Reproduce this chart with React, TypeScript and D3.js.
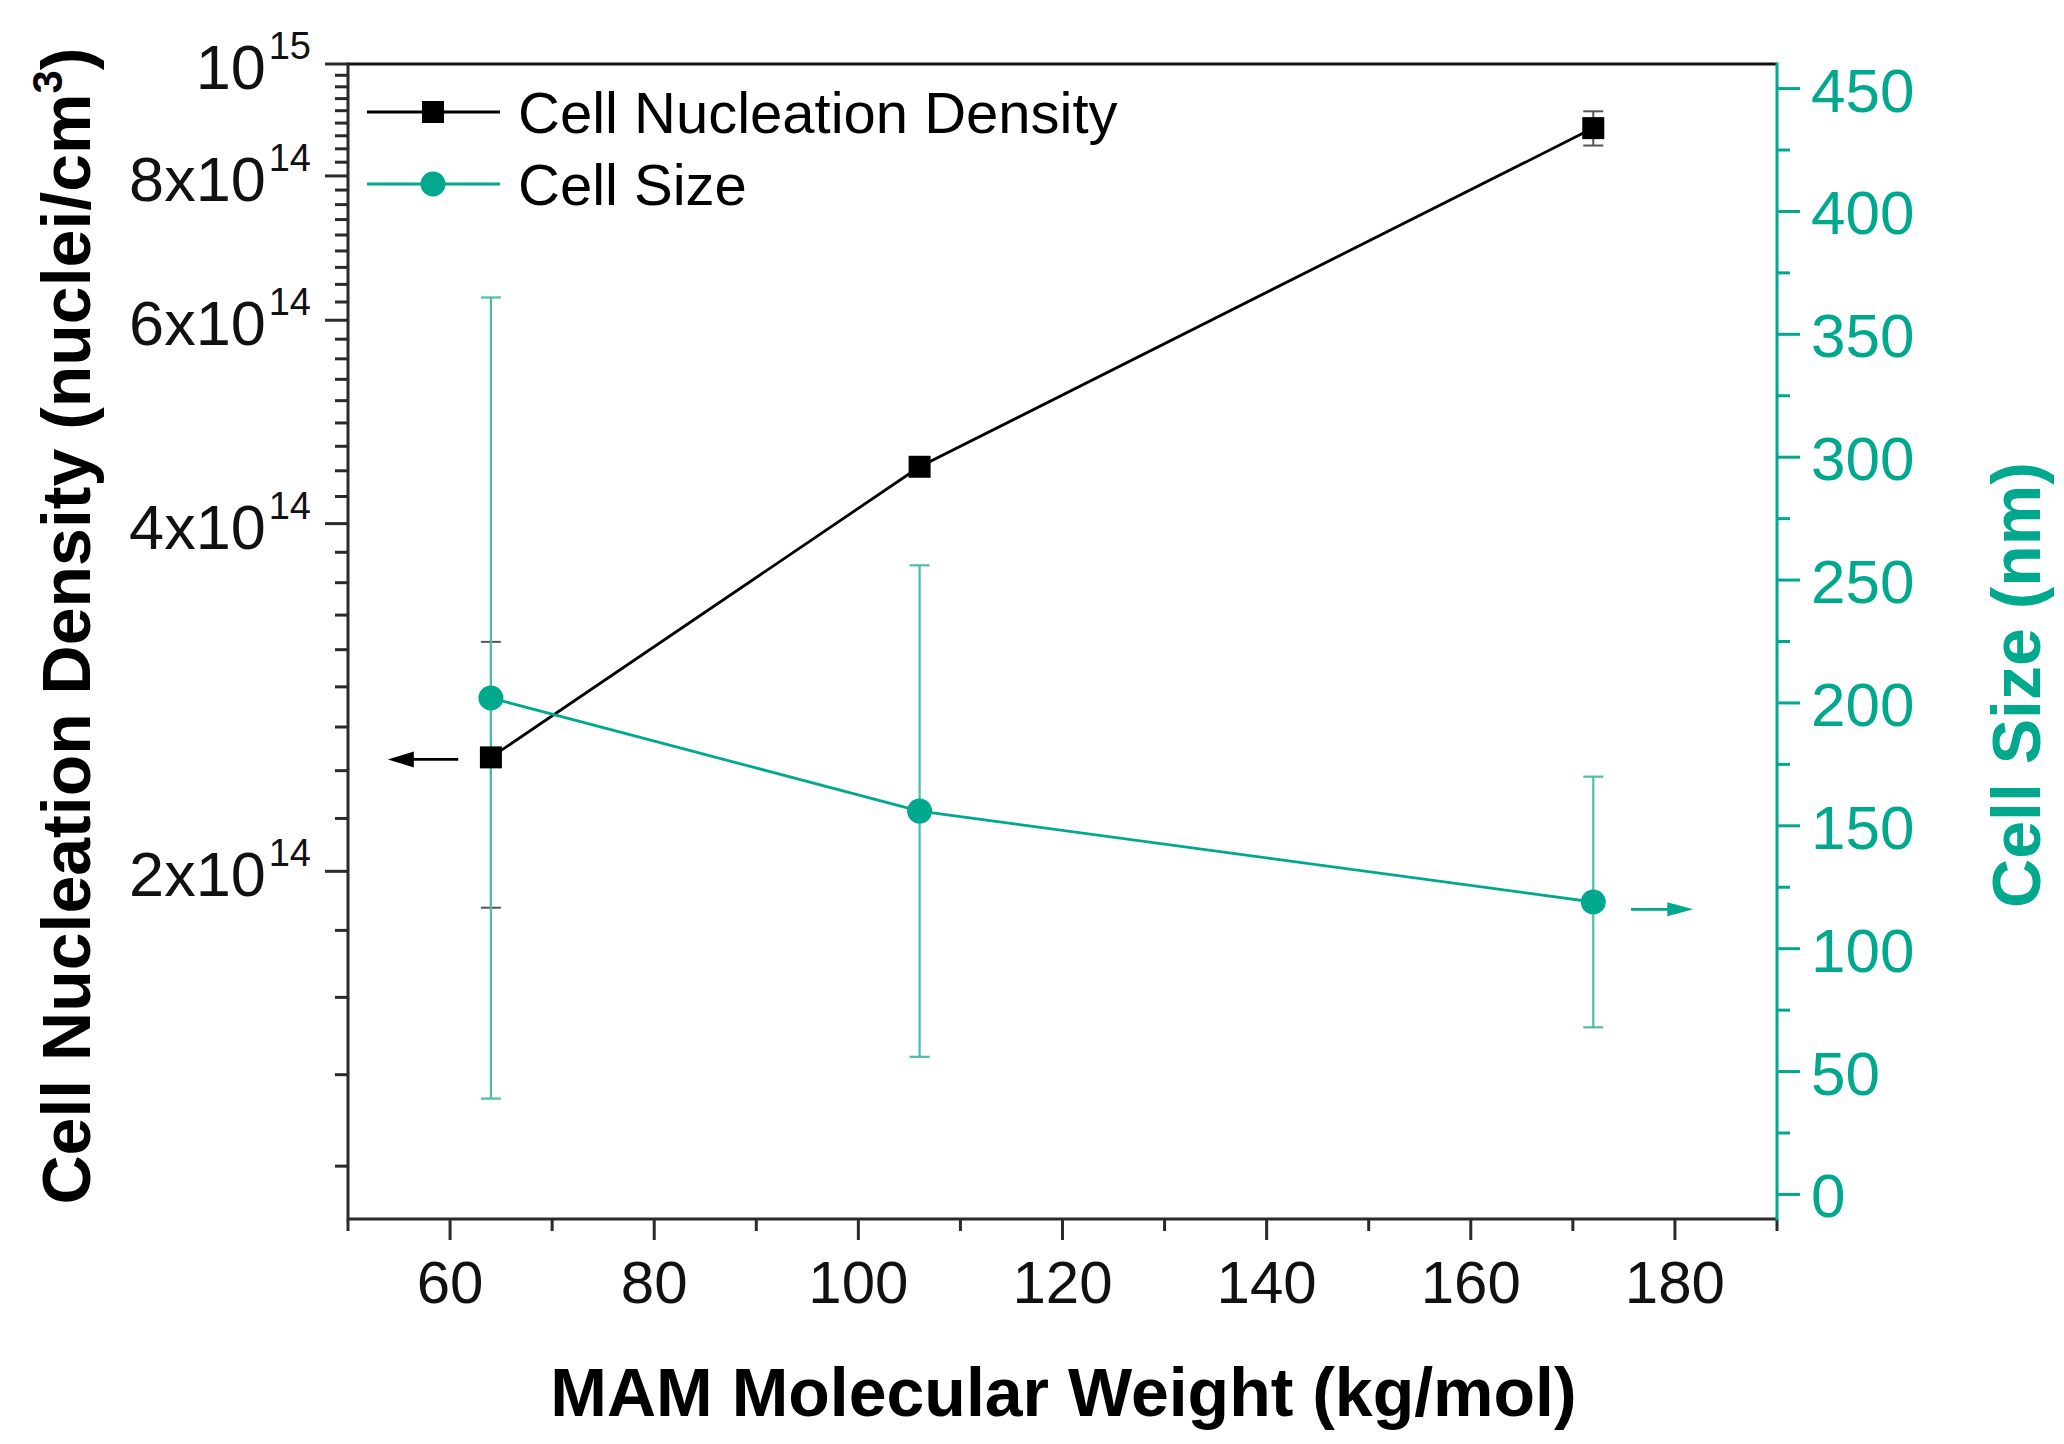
import * as d3 from 'd3';

// MAM molecular weight (kg/mol)
const molecularWeights = [64, 106, 172];
// cell nucleation density (nuclei/cm3) and its error
const densityValues = [2.51e14, 4.48e14, 8.8e14];
const densityErrors = [0.65e14, 0.05e14, 0.3e14];
// cell size (nm) and its error
const cellSizeValues = [202, 156, 119];
const cellSizeErrors = [163, 100, 51];

const xMajorTicks = [60, 80, 100, 120, 140, 160, 180];
const xMinorTicks = [50, 70, 90, 110, 130, 150, 170, 190];
const leftMajorTicks = [2e14, 4e14, 6e14, 8e14, 1e15];
const leftTickLabels = [
  { base: '2x10', exp: '14' },
  { base: '4x10', exp: '14' },
  { base: '6x10', exp: '14' },
  { base: '8x10', exp: '14' },
  { base: '10', exp: '15' },
];
const rightMajorTicks = [0, 50, 100, 150, 200, 250, 300, 350, 400, 450];
const rightMinorTicks = [25, 75, 125, 175, 225, 275, 325, 375, 425];

const TEAL = '#00a88e';
const TEAL_ERR = '#4cbcab';
const AXIS = '#2a2a2a';
const FONT = "'Liberation Sans', Arial, Helvetica, sans-serif";

const W = 2064;
const H = 1444;
const plot = { left: 348, right: 1777, top: 64, bottom: 1219 };

const App = () => {
  const x = d3.scaleLinear().domain([50, 190]).range([plot.left, plot.right]);
  const yL = d3.scaleLog().domain([1e14, 1e15]).range([plot.bottom, plot.top]);
  const yR = d3.scaleLinear().domain([-10, 460]).range([plot.bottom, plot.top]);

  // Origin-style minor ticks: 8 minors between majors 2e14 apart
  const minorStep = 2e14 / 9;
  const leftMinorTicks = d3
    .range(5, 45)
    .filter((k) => k % 9 !== 0)
    .map((k) => k * minorStep);

  const densityLine = d3
    .line<number>()
    .x((_, i) => x(molecularWeights[i]))
    .y((d) => yL(d));
  const sizeLine = d3
    .line<number>()
    .x((_, i) => x(molecularWeights[i]))
    .y((d) => yR(d));

  const cap = 10;
  const sq = 22;

  // annotation arrows, in data units
  const leftArrow = { x1: 60.8, x2: 53.9, y: 2.5e14 };
  const rightArrow = { x1: 175.7, x2: 181.8, y: 116 };

  return (
    <div style={{ position: 'absolute', left: 0, top: 0 }}>
      <svg width={W} height={H} style={{ display: 'block', background: '#fff', fontFamily: FONT }}>
        {/* bottom axis */}
        <line x1={plot.left} x2={plot.right} y1={plot.bottom} y2={plot.bottom} stroke={AXIS} strokeWidth={3} />
        {xMajorTicks.map((t) => (
          <g key={`xM${t}`}>
            <line x1={x(t)} x2={x(t)} y1={plot.bottom} y2={plot.bottom + 21} stroke={AXIS} strokeWidth={3} />
            <text x={x(t)} y={1303} fontSize={60} textAnchor="middle" fill="#111">
              {t}
            </text>
          </g>
        ))}
        {xMinorTicks.map((t) => (
          <line key={`xm${t}`} x1={x(t)} x2={x(t)} y1={plot.bottom} y2={plot.bottom + 12} stroke={AXIS} strokeWidth={3} />
        ))}
        <text x={(plot.left + plot.right) / 2 + 1} y={1416} fontSize={68} fontWeight="bold" textAnchor="middle" fill="#000">
          MAM Molecular Weight (kg/mol)
        </text>

        {/* top axis */}
        <line x1={plot.left - 1.5} x2={plot.right} y1={plot.top} y2={plot.top} stroke="#111" strokeWidth={3} />

        {/* left axis */}
        <line x1={plot.left} x2={plot.left} y1={plot.top} y2={plot.bottom + 1.5} stroke={AXIS} strokeWidth={3} />
        {leftMinorTicks.map((t) => (
          <line key={`lm${t}`} x1={plot.left - 13} x2={plot.left} y1={yL(t)} y2={yL(t)} stroke={AXIS} strokeWidth={3} />
        ))}
        {leftMajorTicks.map((t, i) => (
          <g key={`lM${t}`}>
            <line x1={plot.left - 23} x2={plot.left} y1={yL(t)} y2={yL(t)} stroke={AXIS} strokeWidth={3} />
            <text x={311} y={yL(t) + 25} fontSize={63} textAnchor="end" fill="#111">
              {leftTickLabels[i].base}
              <tspan fontSize={38} dx={3} dy={-30}>
                {leftTickLabels[i].exp}
              </tspan>
            </text>
          </g>
        ))}
        <text transform="translate(90, 626) rotate(-90)" fontSize={68} fontWeight="bold" textAnchor="middle" fill="#000">
          Cell Nucleation Density (nuclei/cm
          <tspan fontSize={42} dy={-28}>
            3
          </tspan>
          <tspan dy={28}>)</tspan>
        </text>

        {/* right axis */}
        <line x1={plot.right} x2={plot.right} y1={plot.top - 1.5} y2={plot.bottom + 1.5} stroke={TEAL} strokeWidth={3} />
        {rightMajorTicks.map((t) => (
          <g key={`rM${t}`}>
            <line x1={plot.right} x2={plot.right + 23} y1={yR(t)} y2={yR(t)} stroke={TEAL} strokeWidth={3} />
            <text x={1811} y={yR(t) + 23} fontSize={62} textAnchor="start" fill={TEAL}>
              {t}
            </text>
          </g>
        ))}
        {rightMinorTicks.map((t) => (
          <line key={`rm${t}`} x1={plot.right} x2={plot.right + 13} y1={yR(t)} y2={yR(t)} stroke={TEAL} strokeWidth={3} />
        ))}
        <text transform="translate(2040, 685) rotate(-90)" fontSize={68} fontWeight="bold" textAnchor="middle" fill={TEAL}>
          Cell Size (nm)
        </text>

        {/* density error bars */}
        {densityValues.map((v, i) => {
          const cx = x(molecularWeights[i]);
          const hi = yL(v + densityErrors[i]);
          const lo = yL(v - densityErrors[i]);
          return (
            <g key={`de${i}`} stroke="#555" strokeWidth={2}>
              <line x1={cx} x2={cx} y1={hi} y2={lo} />
              <line x1={cx - cap} x2={cx + cap} y1={hi} y2={hi} />
              <line x1={cx - cap} x2={cx + cap} y1={lo} y2={lo} />
            </g>
          );
        })}

        {/* cell size error bars */}
        {cellSizeValues.map((v, i) => {
          const cx = x(molecularWeights[i]);
          const hi = yR(v + cellSizeErrors[i]);
          const lo = yR(v - cellSizeErrors[i]);
          return (
            <g key={`se${i}`} stroke={TEAL_ERR} strokeWidth={2.2}>
              <line x1={cx} x2={cx} y1={hi} y2={lo} />
              <line x1={cx - cap} x2={cx + cap} y1={hi} y2={hi} />
              <line x1={cx - cap} x2={cx + cap} y1={lo} y2={lo} />
            </g>
          );
        })}

        {/* series lines */}
        <path d={densityLine(densityValues) ?? ''} fill="none" stroke="#000" strokeWidth={2.8} />
        <path d={sizeLine(cellSizeValues) ?? ''} fill="none" stroke={TEAL} strokeWidth={2.8} />

        {/* markers */}
        {densityValues.map((v, i) => (
          <rect
            key={`dm${i}`}
            x={x(molecularWeights[i]) - sq / 2}
            y={yL(v) - sq / 2}
            width={sq}
            height={sq}
            fill="#000"
          />
        ))}
        {cellSizeValues.map((v, i) => (
          <circle key={`sm${i}`} cx={x(molecularWeights[i])} cy={yR(v)} r={12.5} fill={TEAL} />
        ))}

        {/* axis arrows */}
        <line
          x1={x(leftArrow.x1)}
          x2={x(leftArrow.x2) + 10}
          y1={yL(leftArrow.y)}
          y2={yL(leftArrow.y)}
          stroke="#000"
          strokeWidth={2.8}
        />
        <path d={`M${x(leftArrow.x2)},${yL(leftArrow.y)} l26,-8 l0,16 z`} fill="#000" />
        <line
          x1={x(rightArrow.x1)}
          x2={x(rightArrow.x2) - 10}
          y1={yR(rightArrow.y)}
          y2={yR(rightArrow.y)}
          stroke={TEAL}
          strokeWidth={2.8}
        />
        <path d={`M${x(rightArrow.x2)},${yR(rightArrow.y)} l-26,-7 l0,14 z`} fill={TEAL} />

        {/* legend */}
        <g>
          <line x1={367} x2={500} y1={112} y2={112} stroke="#000" strokeWidth={2.8} />
          <rect x={433 - sq / 2} y={112 - sq / 2} width={sq} height={sq} fill="#000" />
          <text x={518} y={133} fontSize={58} fill="#000">
            Cell Nucleation Density
          </text>
          <line x1={367} x2={500} y1={184} y2={184} stroke={TEAL} strokeWidth={2.8} />
          <circle cx={433} cy={184} r={12.5} fill={TEAL} />
          <text x={518} y={205} fontSize={58} fill="#000">
            Cell Size
          </text>
        </g>
      </svg>
    </div>
  );
};

export default App;
